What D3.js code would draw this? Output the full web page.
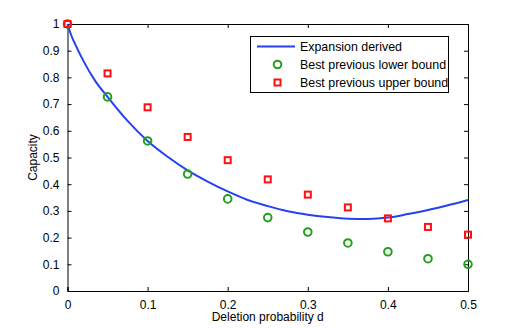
<!DOCTYPE html>
<html>
<head>
<meta charset="utf-8">
<script src="https://cdn.jsdelivr.net/npm/d3@7"></script>
<style>
  body { margin: 0; background: #fff; }
  text { font-family: "Liberation Sans", Arial, sans-serif; }
</style>
</head>
<body>
<svg id="chart" width="518" height="328"></svg>
<script>
// ---- data ----
var pointD = [0, 0.05, 0.1, 0.15, 0.2, 0.25, 0.3, 0.35, 0.4, 0.45, 0.5];
var lowerBound = [1.0, 0.727, 0.562, 0.438, 0.345, 0.275, 0.221, 0.180, 0.147, 0.121, 0.100];
var upperBound = [1.0, 0.815, 0.688, 0.577, 0.490, 0.418, 0.361, 0.313, 0.272, 0.240, 0.211];

var curveD = [0, 0.005, 0.01, 0.02, 0.035, 0.05, 0.075, 0.1, 0.125, 0.15, 0.175, 0.2,
              0.225, 0.25, 0.275, 0.3, 0.325, 0.35, 0.375, 0.4, 0.425, 0.45, 0.475, 0.5];
var expansion = [1.0, 0.955, 0.922, 0.861, 0.785, 0.727, 0.637, 0.562, 0.503, 0.452, 0.410, 0.373,
                 0.341, 0.318, 0.299, 0.286, 0.277, 0.271, 0.270, 0.275, 0.288, 0.303, 0.321, 0.341];

var xTicks = [0, 0.1, 0.2, 0.3, 0.4, 0.5];
var yTicks = [0, 0.1, 0.2, 0.3, 0.4, 0.5, 0.6, 0.7, 0.8, 0.9, 1];
var legendLabels = ["Expansion derived", "Best previous lower bound", "Best previous upper bound"];

// ---- layout ----
var svg = d3.select("#chart");
var plotL = 67.5, plotR = 468, plotT = 24, plotB = 291;
var blue = "#2541f5", green = "#22a01c", red = "#ff1010";

var x = d3.scaleLinear().domain([0, 0.5]).range([plotL, plotR]);
var y = d3.scaleLinear().domain([0, 1]).range([plotB, plotT]);

// axes with inward ticks (box style)
var tickLen = 4;
svg.append("g").attr("transform", "translate(0," + plotB + ")")
    .call(d3.axisBottom(x).tickValues(xTicks).tickSize(-tickLen).tickPadding(9)
        .tickFormat(function(d) { return d === 0 ? "0" : d3.format(".1f")(d); }));
svg.append("g").attr("transform", "translate(0," + plotT + ")")
    .call(d3.axisTop(x).tickValues(xTicks).tickSize(-tickLen).tickFormat(""));
svg.append("g").attr("transform", "translate(" + plotL + ",0)")
    .call(d3.axisLeft(y).tickValues(yTicks).tickSize(-tickLen).tickPadding(8)
        .tickFormat(function(d) { return (d === 0 || d === 1) ? String(d) : d3.format(".1f")(d); }));
svg.append("g").attr("transform", "translate(" + plotR + ",0)")
    .call(d3.axisRight(y).tickValues(yTicks).tickSize(-tickLen).tickFormat(""));

svg.selectAll(".domain").attr("stroke", "#000").attr("stroke-width", 1);
svg.selectAll(".tick line").attr("stroke", "#000");
svg.selectAll(".tick text").attr("font-size", "12px").attr("fill", "#000")
    .attr("font-family", "'Liberation Sans', Arial, sans-serif");

// axis titles
svg.append("text").attr("x", (plotL + plotR) / 2).attr("y", 321)
    .attr("text-anchor", "middle").attr("font-size", "12px").text("Deletion probability d");
svg.append("text").attr("transform", "translate(37," + ((plotT + plotB) / 2) + ") rotate(-90)")
    .attr("text-anchor", "middle").attr("font-size", "12px").text("Capacity");

// expansion curve
var line = d3.line()
    .x(function(d, i) { return x(curveD[i]); })
    .y(function(d) { return y(d); })
    .curve(d3.curveMonotoneX);
svg.append("path").datum(expansion)
    .attr("d", line).attr("fill", "none").attr("stroke", blue).attr("stroke-width", 2);

// lower bound circles
svg.selectAll(".lower").data(lowerBound).enter().append("circle")
    .attr("class", "lower")
    .attr("cx", function(d, i) { return x(pointD[i]); })
    .attr("cy", function(d) { return y(d); })
    .attr("r", 3.8).attr("fill", "none").attr("stroke", green).attr("stroke-width", 2);

// upper bound squares
var sq = 6;
svg.selectAll(".upper").data(upperBound).enter().append("rect")
    .attr("class", "upper")
    .attr("x", function(d, i) { return x(pointD[i]) - sq / 2; })
    .attr("y", function(d) { return y(d) - sq / 2; })
    .attr("width", sq).attr("height", sq)
    .attr("fill", "none").attr("stroke", red).attr("stroke-width", 2);

// legend
var lg = svg.append("g");
lg.append("rect").attr("x", 250.5).attr("y", 36.5).attr("width", 198).attr("height", 56)
    .attr("fill", "#fff").attr("stroke", "#000").attr("stroke-width", 1);
var rowY = [46.5, 64.5, 82.5];
lg.append("line").attr("x1", 257).attr("x2", 295).attr("y1", rowY[0]).attr("y2", rowY[0])
    .attr("stroke", blue).attr("stroke-width", 2);
lg.append("circle").attr("cx", 277.5).attr("cy", rowY[1]).attr("r", 3.8)
    .attr("fill", "none").attr("stroke", green).attr("stroke-width", 2);
lg.append("rect").attr("x", 277.5 - sq / 2).attr("y", rowY[2] - sq / 2).attr("width", sq).attr("height", sq)
    .attr("fill", "none").attr("stroke", red).attr("stroke-width", 2);
lg.selectAll(".lgtext").data(legendLabels).enter().append("text")
    .attr("class", "lgtext")
    .attr("x", 300).attr("y", function(d, i) { return rowY[i] + 4.4; })
    .attr("font-size", "12.4px").text(function(d) { return d; });
</script>
</body>
</html>
